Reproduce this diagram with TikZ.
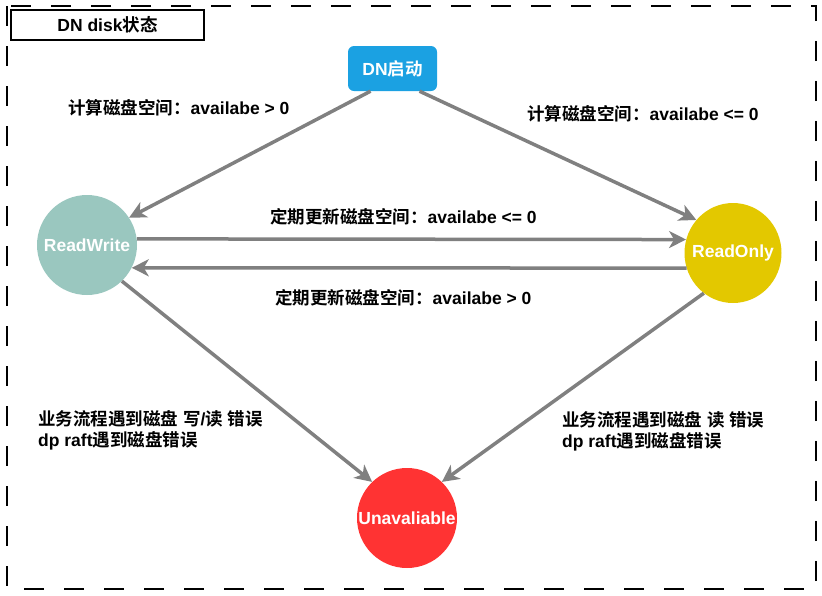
\documentclass[tikz,border=0pt]{standalone}
\usepackage{fontspec}
\setmainfont{Liberation Sans}
\newfontfamily\cjk{Noto Sans CJK SC}[BoldFont={Noto Sans CJK SC Bold}]
\usetikzlibrary{shapes.geometric,arrows.meta}
\newcommand\zh[1]{{\cjk #1}}
\definecolor{dnblue}{HTML}{1BA1E2}
\definecolor{rwgreen}{HTML}{9AC7BF}
\definecolor{royellow}{HTML}{E3C800}
\definecolor{unred}{HTML}{FF3333}
\definecolor{arrgray}{HTML}{808080}
\tikzset{
  every node/.style={font=\bfseries\fontsize{17.5}{21}\selectfont, inner sep=0pt},
  state/.style={ellipse, minimum width=100pt, minimum height=100pt},
  stlabel/.style={text=white, inner sep=0pt},
  conn/.style={draw=arrgray, line width=3.5pt, -{Stealth[length=17pt,width=17pt,inset=5pt]}},
  lbl/.style={anchor=west, align=left, text=black},
}
\begin{document}
\begin{tikzpicture}[x=1pt,y=-1pt]
\useasboundingbox (0,0) rectangle (822,595);
\draw[black, line width=2pt, dash pattern=on 20pt off 20pt] (7,6) rectangle (816,589);
\node[draw=black, line width=1.5pt, minimum width=193pt, minimum height=30pt] (title) at (107.5,25) {DN disk\zh{状态}};
\node[fill=dnblue, rounded corners=6pt, minimum width=89pt, minimum height=45pt, text=white] (dn) at (392.5,68.5) {DN\zh{启动}};
\node[state, fill=rwgreen, label={[stlabel]center:ReadWrite}] (rw) at (87,245) {};
\node[state, fill=royellow, minimum width=97pt, label={[stlabel]center:ReadOnly}] (ro) at (733,253) {};
\node[state, fill=unred, label={[stlabel]center:Unavaliable}] (un) at (407,518) {};
\draw[conn] ([xshift=-22pt]dn.south) -- (rw.33);
\draw[conn] ([xshift=27pt]dn.south) -- (ro.138);
\draw[conn] (rw.7) -- (ro.164);
\draw[conn] (ro.198) -- (rw.-27);
\draw[conn] (rw.-46) -- (un.134);
\draw[conn] (ro.234) -- (un.46);
\node[lbl] (l1) at (68,108) {\zh{计算磁盘空间：}availabe > 0};
\node[lbl] (l2) at (527,114) {\zh{计算磁盘空间：}availabe <= 0};
\node[lbl] (l3) at (270,217) {\zh{定期更新磁盘空间：}availabe <= 0};
\node[lbl] (l4) at (275,298) {\zh{定期更新磁盘空间：}availabe > 0};
\node[lbl] (l5) at (38,430.5) {\zh{业务流程遇到磁盘} \zh{写}/\zh{读} \zh{错误}\\dp raft\zh{遇到磁盘错误}};
\node[lbl] (l6) at (562,431) {\zh{业务流程遇到磁盘} \zh{读} \zh{错误}\\dp raft\zh{遇到磁盘错误}};
\end{tikzpicture}
\end{document}
